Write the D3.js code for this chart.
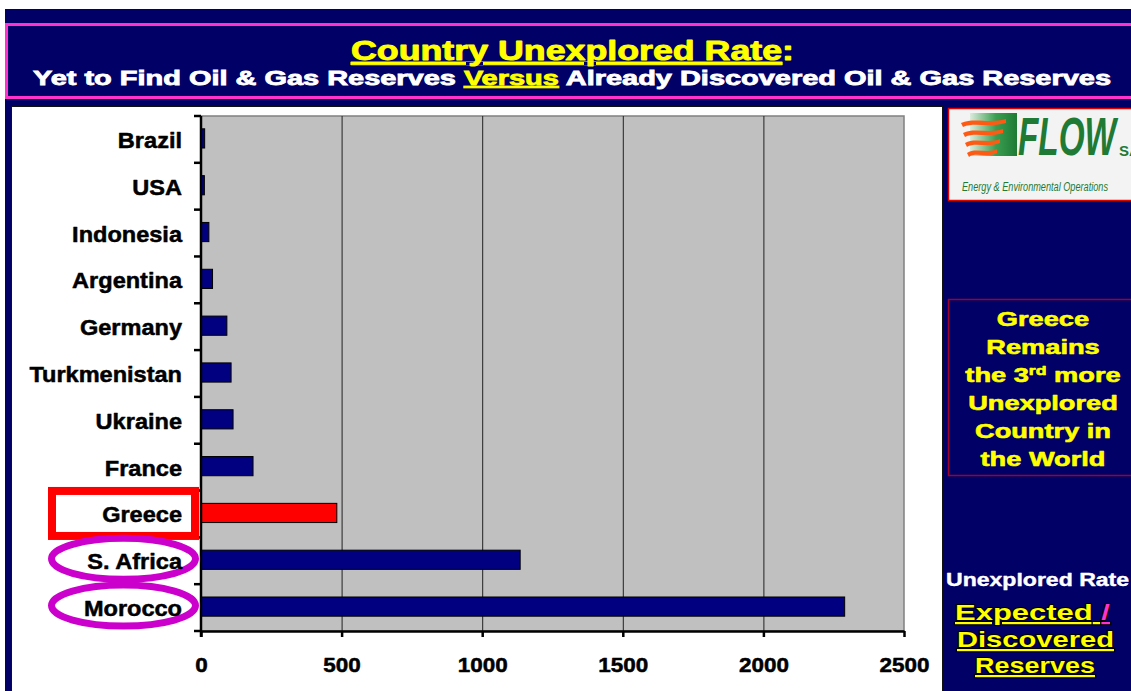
<!DOCTYPE html>
<html>
<head>
<meta charset="utf-8">
<script src="https://cdn.jsdelivr.net/npm/d3@7"></script>
<style>
  html, body { margin: 0; padding: 0; background: #ffffff; }
  svg { display: block; font-family: "Liberation Sans", Arial, sans-serif; }
</style>
</head>
<body>
<svg id="chart" width="1131" height="691"></svg>
<script>
// ---------- data ----------
const categories = ["Brazil", "USA", "Indonesia", "Argentina", "Germany", "Turkmenistan", "Ukraine", "France", "Greece", "S. Africa", "Morocco"];
const values = [13, 12, 28, 41, 92, 107, 114, 185, 483, 1135, 2289];
const xTicks = [0, 500, 1000, 1500, 2000, 2500];
const highlightRect = ["Greece"];
const highlightEllipse = ["S. Africa", "Morocco"];
const titleText = "Country Unexplored Rate";
const subtitleParts = ["Yet to Find Oil & Gas Reserves ", "Versus", " Already Discovered Oil & Gas Reserves"];
const sideLines = ["Greece", "Remains", "the 3|rd| more", "Unexplored", "Country in", "the World"];
const legendLines = ["Unexplored Rate", "Expected", "Discovered", "Reserves"];

const svg = d3.select("#chart");
const NAVY = "#000066";

function stretch(sel, f) {
  sel.each(function () {
    const w = this.getComputedTextLength();
    d3.select(this).attr("textLength", w * f).attr("lengthAdjust", "spacingAndGlyphs");
  });
}
function heavy(sel, color, w) {
  sel.attr("stroke", color).attr("stroke-width", w).attr("stroke-linejoin", "round");
}

// ---------- background ----------
svg.append("rect").attr("x", 5).attr("y", 9).attr("width", 1126).attr("height", 682).attr("fill", NAVY);
svg.append("rect").attr("x", 6.5).attr("y", 24.5).attr("width", 1130).attr("height", 73)
  .attr("fill", "none").attr("stroke", "#FF33CC").attr("stroke-width", 3);

// title
const title = svg.append("text").attr("x", 351).attr("y", 60)
  .attr("font-size", 27).attr("font-weight", "bold").attr("fill", "#FFFF00");
title.append("tspan").text(titleText).style("text-decoration", "underline");
title.append("tspan").text(":");
title.attr("textLength", 443).attr("lengthAdjust", "spacingAndGlyphs");
heavy(title, "#FFFF00", 0.9);

// subtitle
const sub = svg.append("text").attr("x", 33).attr("y", 85)
  .attr("font-size", 19.5).attr("font-weight", "bold").attr("fill", "#ffffff");
sub.append("tspan").text(subtitleParts[0]).attr("stroke", "#ffffff");
sub.append("tspan").text(subtitleParts[1]).attr("fill", "#FFFF00").attr("stroke", "#FFFF00").style("text-decoration", "underline");
sub.append("tspan").text(subtitleParts[2]).attr("stroke", "#ffffff");
sub.attr("textLength", 1078).attr("lengthAdjust", "spacingAndGlyphs").attr("stroke-width", 0.8);

// chart panel
svg.append("rect").attr("x", 11.5).attr("y", 106.5).attr("width", 931).attr("height", 600)
  .attr("fill", "#ffffff").attr("stroke", "#111111").attr("stroke-width", 1);

// ---------- scales ----------
const x = d3.scaleLinear().domain([0, 2500]).range([201, 904]);
const y = d3.scaleBand().domain(categories).range([116, 631]).paddingInner(0).paddingOuter(0);
const bw = y.bandwidth();

// plot area
svg.append("rect").attr("x", x(0)).attr("y", y.range()[0]).attr("width", x(2500) - x(0))
  .attr("height", y.range()[1] - y.range()[0]).attr("fill", "#C0C0C0")
  .attr("stroke", "#808080").attr("stroke-width", 1.5);

// gridlines
svg.append("g").selectAll("line").data(xTicks.filter(d => d > 0 && d < 2500)).join("line")
  .attr("x1", d => x(d) + 0.5).attr("x2", d => x(d) + 0.5)
  .attr("y1", y.range()[0]).attr("y2", y.range()[1])
  .attr("stroke", "#222222").attr("stroke-width", 1);

// bars
const barH = bw * 0.41;
svg.append("g").selectAll("rect").data(categories).join("rect")
  .attr("x", x(0))
  .attr("y", d => y(d) + bw / 2 - barH / 2 - 1)
  .attr("width", (d, i) => x(values[i]) - x(0))
  .attr("height", barH)
  .attr("fill", d => highlightRect.includes(d) ? "#FF0000" : "#000080")
  .attr("stroke", "#000000").attr("stroke-width", 1);

// bottom axis
const xAxis = svg.append("g").attr("transform", `translate(0,${y.range()[1]})`)
  .call(d3.axisBottom(x).tickValues(xTicks).tickSize(6).tickSizeOuter(0).tickFormat(d3.format("d")));
xAxis.select(".domain").attr("stroke", "#000").attr("stroke-width", 2.5);
xAxis.selectAll(".tick line").attr("stroke", "#000").attr("stroke-width", 2.5);
xAxis.selectAll(".tick text").attr("font-size", 21).attr("font-weight", "bold")
  .attr("font-family", "Liberation Sans, Arial, sans-serif").attr("fill", "#000")
  .attr("dy", null).attr("y", 41);
heavy(xAxis.selectAll(".tick text"), "#000", 0.5);
stretch(xAxis.selectAll(".tick text"), 1.07);

// left axis (line + ticks at band boundaries)
const bounds = categories.map(c => y(c)).concat([y.range()[1]]);
svg.append("line").attr("x1", x(0)).attr("x2", x(0)).attr("y1", y.range()[0]).attr("y2", y.range()[1] + 6)
  .attr("stroke", "#000").attr("stroke-width", 2.5);
svg.append("g").selectAll("line").data(bounds).join("line")
  .attr("x1", x(0) - 7).attr("x2", x(0)).attr("y1", d => d).attr("y2", d => d)
  .attr("stroke", "#000").attr("stroke-width", 2.5);

// highlight annotations
highlightRect.forEach(c => {
  const cy = y(c) + bw / 2 - 0.5;
  svg.append("rect").attr("x", 52).attr("y", cy - 22.5).attr("width", 143).attr("height", 45)
    .attr("fill", "#ffffff").attr("stroke", "#FF0000").attr("stroke-width", 8);
});
highlightEllipse.forEach(c => {
  const cy = y(c) + bw / 2 - 2;
  svg.append("ellipse").attr("cx", 123.5).attr("cy", cy).attr("rx", 72).attr("ry", 20.5)
    .attr("fill", "none").attr("stroke", "#CC00CC").attr("stroke-width", 7);
});

// category labels
const labels = svg.append("g").selectAll("text").data(categories).join("text")
  .attr("x", 182).attr("y", d => y(d) + bw / 2 + 8.5)
  .attr("text-anchor", "end").attr("font-size", 22).attr("font-weight", "bold").attr("fill", "#000")
  .text(d => d);
heavy(labels, "#000", 0.5);
stretch(labels, 1.07);

// ---------- right side ----------
// logo
const logo = svg.append("g");
logo.append("rect").attr("x", 948.5).attr("y", 108.5).attr("width", 190).attr("height", 92)
  .attr("fill", "#F3F3F3").attr("stroke", "#E00000").attr("stroke-width", 1.5);
const defs = svg.append("defs");
const grad = defs.append("linearGradient").attr("id", "lg").attr("x1", "0").attr("x2", "1");
grad.append("stop").attr("offset", "0").attr("stop-color", "#DCEBDC");
grad.append("stop").attr("offset", "0.55").attr("stop-color", "#3A9E52");
grad.append("stop").attr("offset", "1").attr("stop-color", "#1E7A34");
logo.append("rect").attr("x", 970).attr("y", 113).attr("width", 47).attr("height", 43).attr("fill", "url(#lg)");
[121, 131, 141, 151].forEach((yy, i) => {
  logo.append("path")
    .attr("d", `M${961 + i * 2},${yy + 2} C${975},${yy - 4} ${988},${yy + 3} ${1006 - i * 3},${yy - 2} L${1006 - i * 3},${yy + 2} C${988},${yy + 7} ${975},${yy + 1} ${963 + i * 2},${yy + 6} Z`)
    .attr("fill", "#FF5A14");
});
logo.append("text").attr("x", 1018).attr("y", 155).attr("font-size", 54).attr("font-weight", "bold")
  .attr("font-style", "italic").attr("fill", "#1E7A34").text("FLOW")
  .attr("textLength", 98).attr("lengthAdjust", "spacingAndGlyphs");
logo.append("text").attr("x", 1119).attr("y", 156).attr("font-size", 15).attr("font-weight", "bold")
  .attr("fill", "#1E7A34").text("SA");
logo.append("text").attr("x", 962).attr("y", 191).attr("font-size", 12).attr("font-style", "italic")
  .attr("fill", "#1E7A34").text("Energy & Environmental Operations")
  .attr("textLength", 146).attr("lengthAdjust", "spacingAndGlyphs");

// Greece statement box
svg.append("rect").attr("x", 948.5).attr("y", 299.5).attr("width", 190).attr("height", 176)
  .attr("fill", "none").attr("stroke", "#A0002A").attr("stroke-width", 1.5);
const sideG = svg.append("g");
sideLines.forEach((line, i) => {
  const t = sideG.append("text").attr("x", 1043).attr("y", 326 + i * 28)
    .attr("text-anchor", "middle").attr("font-size", 20).attr("font-weight", "bold").attr("fill", "#FFFF00");
  const parts = line.split("|");
  if (parts.length === 3) {
    t.append("tspan").text(parts[0]);
    t.append("tspan").text(parts[1]).attr("font-size", 13).attr("baseline-shift", "55%");
    t.append("tspan").text(parts[2]);
  } else {
    t.text(line);
  }
  heavy(t, "#FFFF00", 0.6);
  stretch(t, 1.36);
});

// legend-like note
svg.append("text").attr("x", 946).attr("y", 586).attr("font-size", 18).attr("font-weight", "bold")
  .attr("fill", "#ffffff").text(legendLines[0])
  .call(s => heavy(s, "#ffffff", 0.4)).call(s => stretch(s, 1.28));

const e1 = svg.append("text").attr("x", 955).attr("y", 620).attr("font-size", 22).attr("font-weight", "bold")
  .attr("fill", "#FFFF00").attr("stroke", "#000").attr("stroke-width", 1.8).attr("paint-order", "stroke");
e1.append("tspan").text(legendLines[1]).style("text-decoration", "underline");
e1.append("tspan").text(" ").style("text-decoration", "underline");
e1.append("tspan").text("/").attr("fill", "#FF33CC").style("text-decoration", "underline");
e1.attr("textLength", 155).attr("lengthAdjust", "spacingAndGlyphs");

svg.append("text").attr("x", 957).attr("y", 647).attr("font-size", 22).attr("font-weight", "bold")
  .attr("fill", "#FFFF00").attr("stroke", "#000").attr("stroke-width", 1.8).attr("paint-order", "stroke")
  .style("text-decoration", "underline").text(legendLines[2])
  .attr("textLength", 157).attr("lengthAdjust", "spacingAndGlyphs");

svg.append("text").attr("x", 975).attr("y", 673).attr("font-size", 22).attr("font-weight", "bold")
  .attr("fill", "#FFFF00").attr("stroke", "#000").attr("stroke-width", 1.8).attr("paint-order", "stroke")
  .style("text-decoration", "underline").text(legendLines[3])
  .attr("textLength", 120).attr("lengthAdjust", "spacingAndGlyphs");
</script>
</body>
</html>
